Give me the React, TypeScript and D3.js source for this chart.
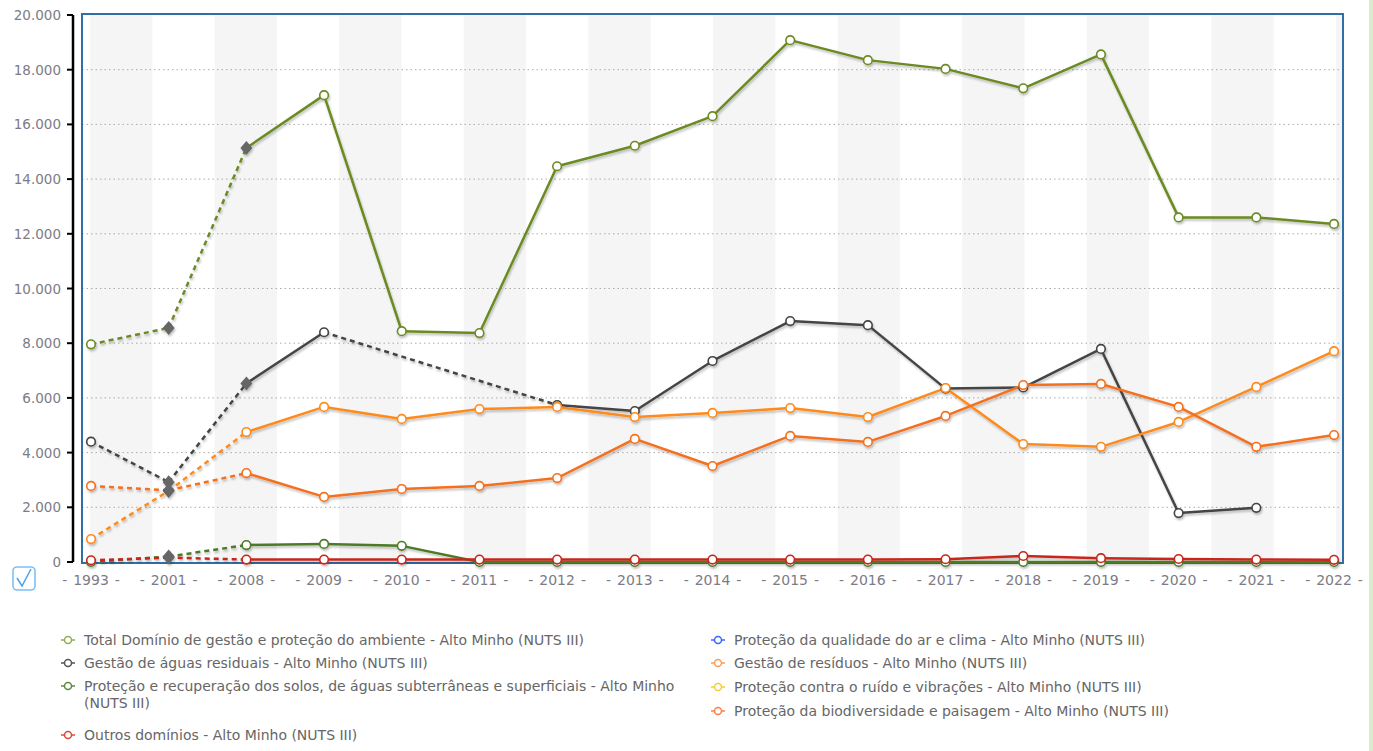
import React from "react";
import * as d3 from "d3";

const years = ["1993","2001","2008","2009","2010","2011","2012","2013","2014","2015","2016","2017","2018","2019","2020","2021","2022"];
const yTicks = [0, 2000, 4000, 6000, 8000, 10000, 12000, 14000, 16000, 18000, 20000];

const totalVals = [7960, 8560, 15140, 17070, 8440, 8370, 14470, 15220, 16300, 19080, 18350, 18030, 17320, 18560, 12600, 12600, 12360];
const aguasVals: (number | null)[] = [4400, 2920, 6530, 8400, null, null, 5740, 5520, 7350, 8810, 8660, 6340, 6380, 7790, 1790, 1980, null];
const solosVals = [0, 200, 620, 660, 590, 0, 0, 0, 0, 0, 0, 0, 0, 0, 0, 0, 0];
const arVals: (number | null)[] = [];
const residuosVals = [840, 2600, 4750, 5670, 5230, 5590, 5670, 5300, 5450, 5630, 5300, 6360, 4310, 4210, 5120, 6400, 7710];
const ruidoVals: (number | null)[] = [];
const biodivVals = [2780, 2620, 3250, 2380, 2670, 2780, 3070, 4500, 3510, 4610, 4390, 5340, 6470, 6510, 5670, 4210, 4640];
const outrosVals = [60, 160, 90, 90, 90, 90, 90, 90, 90, 90, 90, 100, 220, 140, 110, 90, 80];

const totalName = "Total Domínio de gestão e proteção do ambiente - Alto Minho (NUTS III)";
const aguasName = "Gestão de águas residuais - Alto Minho (NUTS III)";
const solosName = ["Proteção e recuperação dos solos, de águas subterrâneas e superficiais - Alto Minho", "(NUTS III)"];
const outrosName = "Outros domínios - Alto Minho (NUTS III)";
const arName = "Proteção da qualidade do ar e clima - Alto Minho (NUTS III)";
const residuosName = "Gestão de resíduos - Alto Minho (NUTS III)";
const ruidoName = "Proteção contra o ruído e vibrações - Alto Minho (NUTS III)";
const biodivName = "Proteção da biodiversidade e paisagem - Alto Minho (NUTS III)";

type Series = { key: string; values: (number | null)[]; color: string; diamonds: number[] };

const series: Series[] = [
  { key: "total", values: totalVals, color: "#6b8a24", diamonds: [1, 2] },
  { key: "aguas", values: aguasVals, color: "#444444", diamonds: [1, 2] },
  { key: "solos", values: solosVals, color: "#4d7a26", diamonds: [1] },
  { key: "ar", values: arVals, color: "#3366ff", diamonds: [] },
  { key: "residuos", values: residuosVals, color: "#ff8a1c", diamonds: [1] },
  { key: "ruido", values: ruidoVals, color: "#f2d033", diamonds: [] },
  { key: "biodiv", values: biodivVals, color: "#f5701e", diamonds: [1] },
  { key: "outros", values: outrosVals, color: "#c8261c", diamonds: [1] },
];

const legendLeft = [
  { lines: [totalName], color: "#8fae55" },
  { lines: [aguasName], color: "#555555" },
  { lines: solosName, color: "#5d8a3e" },
  { lines: [outrosName], color: "#e0483a" },
];
const legendRight = [
  { lines: [arName], color: "#3a66ff" },
  { lines: [residuosName], color: "#ff9c55" },
  { lines: [ruidoName], color: "#f2d033" },
  { lines: [biodivName], color: "#ff7f45" },
];

const W = 1373, H = 751;
const plotL = 82, plotR = 1343, plotT = 14, plotB = 563;

export default function App() {
  const x = d3.scalePoint<string>().domain(years).range([91, 1334]).padding(0);
  const y = d3.scaleLinear().domain([0, 20000]).range([562, 15]);
  const line = d3.line<[number, number]>().x(d => d[0]).y(d => d[1]);

  const bands: number[] = [];
  for (let b = 90; b < plotR; b += 124.6) bands.push(b);

  const font = "'DejaVu Sans', Verdana, sans-serif";

  const segs: { d: string; color: string; dashed: boolean; key: string }[] = [];
  const circles: { cx: number; cy: number; color: string; key: string }[] = [];
  const diamonds: { cx: number; cy: number; key: string }[] = [];
  series.forEach(s => {
    const pts: { i: number; v: number }[] = [];
    s.values.forEach((v, i) => { if (v !== null && v !== undefined) pts.push({ i, v }); });
    for (let k = 0; k + 1 < pts.length; k++) {
      const a = pts[k], b = pts[k + 1];
      const dashed = b.i <= 2 || b.i - a.i > 1;
      segs.push({
        d: line([[x(years[a.i])!, y(a.v)], [x(years[b.i])!, y(b.v)]])!,
        color: s.color, dashed, key: `${s.key}-${k}`,
      });
    }
    pts.forEach(p => {
      if (s.diamonds.includes(p.i)) diamonds.push({ cx: x(years[p.i])!, cy: y(p.v), key: `${s.key}-d${p.i}` });
      else if (p.i !== 1) circles.push({ cx: x(years[p.i])!, cy: y(p.v), color: s.color, key: `${s.key}-c${p.i}` });
    });
  });

  const legendItem = (item: { lines: string[]; color: string }, lx: number, ly: number, key: string) => (
    <g key={key}>
      <line x1={lx - 7} x2={lx + 7} y1={ly} y2={ly} stroke={item.color} strokeWidth={1.5} />
      <circle cx={lx} cy={ly} r={3.5} fill="#fff" stroke={item.color} strokeWidth={1.5} />
      {item.lines.map((t, j) => (
        <text key={j} x={lx + 16} y={ly + 5 + j * 17} fontSize={14} fill="#666" fontFamily={font}>{t}</text>
      ))}
    </g>
  );

  const leftY = [640, 663, 686, 735];
  const rightY = [640, 663, 687, 711];

  return (
    <svg width={W} height={H} style={{ position: "absolute", left: 0, top: 0, background: "#fff" }}>
      <defs>
        <filter id="shadow" x="-10%" y="-10%" width="120%" height="130%">
          <feDropShadow dx="1" dy="2" stdDeviation="1.3" floodColor="#000" floodOpacity="0.25" />
        </filter>
        <clipPath id="plotclip"><rect x={plotL} y={plotT} width={plotR - plotL} height={plotB - plotT} /></clipPath>
      </defs>
      <rect x={0} y={0} width={W} height={H} fill="#fff" />
      <rect x={1369} y={0} width={4} height={H} fill="#d8eecb" />
      <g clipPath="url(#plotclip)">
        {bands.map((b, i) => (
          <rect key={i} x={b} y={plotT} width={62.3} height={plotB - plotT} fill="#f5f5f5" />
        ))}
      </g>
      {yTicks.filter(t => t > 0 && t < 20000).map(t => (
        <line key={t} x1={plotL} x2={plotR} y1={y(t)} y2={y(t)} stroke="#aaa" strokeWidth={1} strokeDasharray="1.5,3" />
      ))}
      <rect x={plotL} y={plotT} width={plotR - plotL} height={plotB - plotT} fill="none" stroke="#2f6fa6" strokeWidth={2} />
      <line x1={73} x2={73} y1={y(20000)} y2={y(0)} stroke="#000" strokeWidth={2.5} />
      {yTicks.map(t => (
        <g key={t}>
          <line x1={67} x2={73} y1={y(t)} y2={y(t)} stroke="#000" strokeWidth={2} />
          <text x={61} y={y(t) + 5} textAnchor="end" fontSize={13.5} fill="#7d7b86" fontFamily={font}>
            {d3.format(",")(t).replace(/,/g, ".")}
          </text>
        </g>
      ))}
      {years.map(yr => (
        <text key={yr} x={x(yr)!} y={585} textAnchor="middle" fontSize={14} wordSpacing={1.5} fill="#7d7b86" fontFamily={font}>
          {`- ${yr} -`}
        </text>
      ))}
      <g filter="url(#shadow)">
        {segs.map(s => (
          <path key={s.key} d={s.d} fill="none" stroke={s.color} strokeWidth={2.5}
            strokeDasharray={s.dashed ? "5,4" : undefined} strokeLinecap="butt" />
        ))}
        {diamonds.map(dm => (
          <path key={dm.key} d={`M${dm.cx},${dm.cy - 7}L${dm.cx + 6},${dm.cy}L${dm.cx},${dm.cy + 7}L${dm.cx - 6},${dm.cy}Z`} fill="#666" />
        ))}
        {circles.map(c => (
          <circle key={c.key} cx={c.cx} cy={c.cy} r={4.3} fill="#fff" stroke={c.color} strokeWidth={1.6} />
        ))}
      </g>
      <g>
        <rect x={13} y={567} width={22} height={23} rx={4} fill="#fff" stroke="#7cc0f5" strokeWidth={1.6} />
        <path d="M17,578 L22,586 L31,569" fill="none" stroke="#4aa0ea" strokeWidth={1.5} />
      </g>
      {legendLeft.map((it, i) => legendItem(it, 68, leftY[i], `l${i}`))}
      {legendRight.map((it, i) => legendItem(it, 718, rightY[i], `r${i}`))}
    </svg>
  );
}
